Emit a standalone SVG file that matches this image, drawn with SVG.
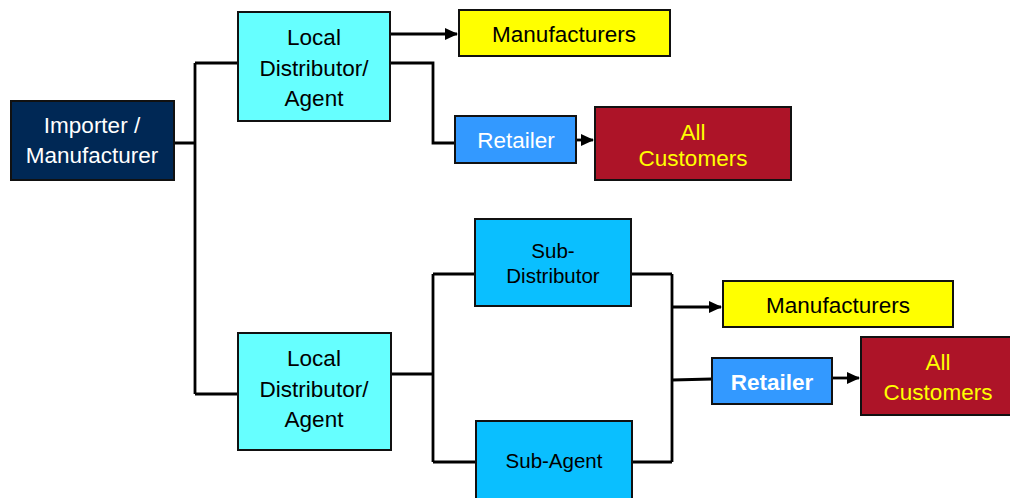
<svg xmlns="http://www.w3.org/2000/svg" width="1010" height="498" viewBox="0 0 1010 498">
<style>
.box{stroke:#111;stroke-width:2}
.t{font-family:"Liberation Sans",Arial,sans-serif;font-size:22.5px;text-anchor:middle}
.s{font-size:20.5px}
.w{fill:#fff}
.y{fill:#ffff00}
.k{fill:#000}
.c{fill:none;stroke:#000;stroke-width:2.8;stroke-linejoin:miter}
</style>
<defs>
<marker id="ah" markerWidth="13" markerHeight="12" refX="12" refY="6" orient="auto" markerUnits="userSpaceOnUse">
<path d="M0,0 L13,6 L0,12 Z" fill="#000"/>
</marker>
</defs>
<rect width="1010" height="498" fill="#fff"/>
<g id="connectors">
<path class="c" d="M174,143 H195 M195,63 V394 M195,63 H238 M195,394 H238"/>
<path class="c" d="M390,34 H457" marker-end="url(#ah)"/>
<path class="c" d="M390,63 H433 V143 H455"/>
<path class="c" d="M576,140 H593" marker-end="url(#ah)"/>
<path class="c" d="M391,374 H433 M433,274 V462 M433,274 H475 M433,462 H476"/>
<path class="c" d="M631,274 H672 M632,462 H672 M672,274 V462"/>
<path class="c" d="M672,307 H721" marker-end="url(#ah)"/>
<path class="c" d="M672,380 L712,379"/>
<path class="c" d="M832,378 H859" marker-end="url(#ah)"/>
</g>
<g id="importer">
<rect class="box" x="11" y="101" width="163" height="79" fill="#002855"/>
<text class="t w" x="92" y="133">Importer /</text>
<text class="t w" x="92" y="163">Manufacturer</text>
</g>
<g id="local1">
<rect class="box" x="238" y="12" width="152" height="109" fill="#66ffff"/>
<text class="t k" x="314" y="45">Local</text>
<text class="t k" x="314" y="76">Distributor/</text>
<text class="t k" x="314" y="106">Agent</text>
</g>
<g id="manufacturers1">
<rect class="box" x="459" y="10" width="211" height="46" fill="#ffff00"/>
<text class="t k" x="564" y="42">Manufacturers</text>
</g>
<g id="retailer1">
<rect class="box" x="455" y="116" width="121" height="47" fill="#3399ff"/>
<text class="t w" x="516" y="148">Retailer</text>
</g>
<g id="customers1">
<rect class="box" x="595" y="107" width="196" height="73" fill="#ad1428"/>
<text class="t y" x="693" y="140">All</text>
<text class="t y" x="693" y="166">Customers</text>
</g>
<g id="local2">
<rect class="box" x="238" y="333" width="153" height="117" fill="#66ffff"/>
<text class="t k" x="314" y="366">Local</text>
<text class="t k" x="314" y="397">Distributor/</text>
<text class="t k" x="314" y="427">Agent</text>
</g>
<g id="subdistributor">
<rect class="box" x="475" y="219" width="156" height="87" fill="#0abfff"/>
<text class="t s k" x="553" y="258">Sub-</text>
<text class="t s k" x="553" y="283">Distributor</text>
</g>
<g id="subagent">
<rect class="box" x="476" y="421" width="156" height="90" fill="#0abfff"/>
<text class="t s k" x="554" y="468">Sub-Agent</text>
</g>
<g id="manufacturers2">
<rect class="box" x="723" y="281" width="230" height="46" fill="#ffff00"/>
<text class="t k" x="838" y="313">Manufacturers</text>
</g>
<g id="retailer2">
<rect class="box" x="712" y="358" width="120" height="46" fill="#3399ff"/>
<text class="t w" x="772" y="390" font-weight="bold">Retailer</text>
</g>
<g id="customers2">
<rect class="box" x="861" y="337" width="160" height="78" fill="#ad1428"/>
<text class="t y" x="938" y="370">All</text>
<text class="t y" x="938" y="400">Customers</text>
</g>
</svg>
